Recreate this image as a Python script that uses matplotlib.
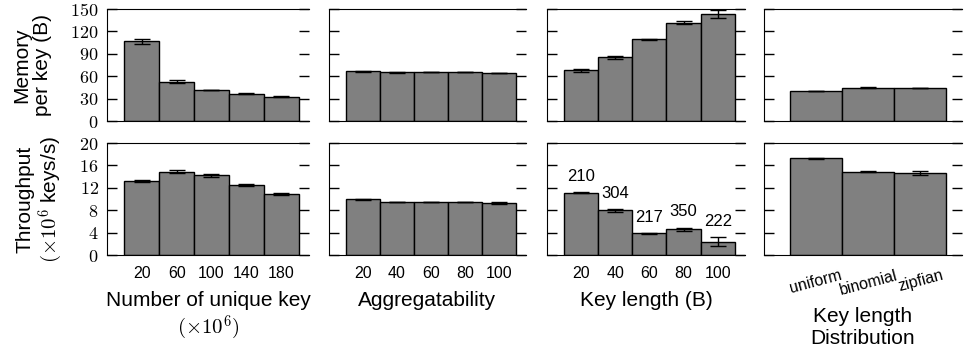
import numpy as np
import matplotlib
matplotlib.use('Agg')
import matplotlib.pyplot as plt
from matplotlib.ticker import FuncFormatter

plt.rcParams['font.family'] = ['Liberation Sans', 'DejaVu Sans']
plt.rcParams['mathtext.fontset'] = 'cm'

# x categories of the four panels
keys_labels = ['20', '60', '100', '140', '180']
aggr_labels = ['20', '40', '60', '80', '100']
klen_labels = ['20', '40', '60', '80', '100']
dist_labels = ['uniform', 'binomial', 'zipfian']

# memory per key (B)
mem_keys = [106.5, 52.5, 41.5, 36.5, 32.5]
mem_keys_err = [3.5, 2.0, 0.6, 0.5, 0.4]
mem_aggr = [66.3, 65.2, 65.3, 65.3, 64.3]
mem_aggr_err = [0.4, 0.3, 0.3, 0.3, 0.6]
mem_klen = [67.8, 85.2, 109.3, 131.5, 143.0]
mem_klen_err = [2.5, 1.5, 1.0, 2.0, 5.0]
mem_dist = [40.2, 44.6, 44.2]
mem_dist_err = [0.3, 0.4, 0.3]

# throughput (x10^6 keys/s)
thr_keys = [13.2, 14.9, 14.2, 12.5, 10.9]
thr_keys_err = [0.15, 0.3, 0.3, 0.1, 0.1]
thr_aggr = [9.95, 9.5, 9.5, 9.5, 9.35]
thr_aggr_err = [0.05, 0.05, 0.05, 0.05, 0.2]
thr_klen = [11.1, 7.95, 3.85, 4.6, 2.4]
thr_klen_err = [0.1, 0.25, 0.05, 0.3, 0.8]
thr_klen_notes = ['210', '304', '217', '350', '222']
thr_dist = [17.25, 14.9, 14.6]
thr_dist_err = [0.1, 0.15, 0.35]

W, H = 966, 352
cols = [(107, 309), (329, 526), (547, 745), (764, 962)]
rows = [(9, 121), (143, 255)]


def make_ax(fig, col, row):
    x0, x1 = cols[col]
    y0, y1 = rows[row]
    return fig.add_axes([x0 / W, 1 - y1 / H, (x1 - x0) / W, (y1 - y0) / H])


def bar_panel(ax, labels, vals, errs, ymax, step, show_y):
    x = np.arange(len(labels))
    ax.bar(x, vals, width=1.0, color='#808080', edgecolor='black', linewidth=1.0)
    ax.errorbar(x, vals, yerr=errs, fmt='none', ecolor='black', elinewidth=1.0,
                capsize=5.5, capthick=1.0)
    ax.set_xlim(-1.0, len(labels) - 0.2)
    ax.set_ylim(0, ymax)
    ax.set_yticks(np.arange(0, ymax + 1, step))
    ax.set_xticks(x)
    ax.set_xticklabels(labels, fontsize=11.5)
    ax.spines['right'].set_visible(False)
    ax.tick_params(axis='y', direction='in', right=True, length=7, width=1)
    ax.tick_params(axis='x', length=0, pad=8)
    if show_y:
        ax.yaxis.set_major_formatter(FuncFormatter(lambda v, p: '$%d$' % v))
        ax.tick_params(axis='y', labelsize=13, pad=6)
    else:
        ax.set_yticklabels([])


fig = plt.figure(figsize=(W / 100, H / 100), dpi=100)

mem = [(keys_labels, mem_keys, mem_keys_err), (aggr_labels, mem_aggr, mem_aggr_err),
       (klen_labels, mem_klen, mem_klen_err), (dist_labels, mem_dist, mem_dist_err)]
thr = [(keys_labels, thr_keys, thr_keys_err), (aggr_labels, thr_aggr, thr_aggr_err),
       (klen_labels, thr_klen, thr_klen_err), (dist_labels, thr_dist, thr_dist_err)]

xlabels = ['Number of unique key\n$(\\times10^6)$', 'Aggregatability',
           'Key length (B)', 'Key length\nDistribution']

for i in range(4):
    ax = make_ax(fig, i, 0)
    bar_panel(ax, mem[i][0], mem[i][1], mem[i][2], 150, 30, i == 0)
    ax.set_xticklabels([])
    if i == 0:
        ax.set_ylabel('Memory\nper key (B)', fontsize=15, linespacing=1.15)
        ax.yaxis.set_label_coords(-0.272, 0.5)

    ax = make_ax(fig, i, 1)
    bar_panel(ax, thr[i][0], thr[i][1], thr[i][2], 20, 4, i == 0)
    if i == 0:
        ax.set_ylabel('Throughput\n$(\\times10^6$ keys/s)', fontsize=15, linespacing=1.1)
        ax.yaxis.set_label_coords(-0.205, 0.5)
    if i == 2:
        for k, note in enumerate(thr_klen_notes):
            ax.annotate(note, (k, thr_klen[k] + thr_klen_err[k]), xytext=(0, 6),
                        textcoords='offset points', ha='center', va='bottom', fontsize=12)
    if i == 3:
        for t in ax.get_xticklabels():
            t.set_rotation(15)
        ax.tick_params(axis='x', pad=9)
        ax.set_xlabel(xlabels[i], fontsize=15, va='top')
        ax.xaxis.set_label_coords(0.5, -0.46)
    else:
        ax.set_xlabel(xlabels[i], fontsize=15, va='top')
        ax.xaxis.set_label_coords(0.5, -0.32)

fig.savefig('out.png', dpi=100)
